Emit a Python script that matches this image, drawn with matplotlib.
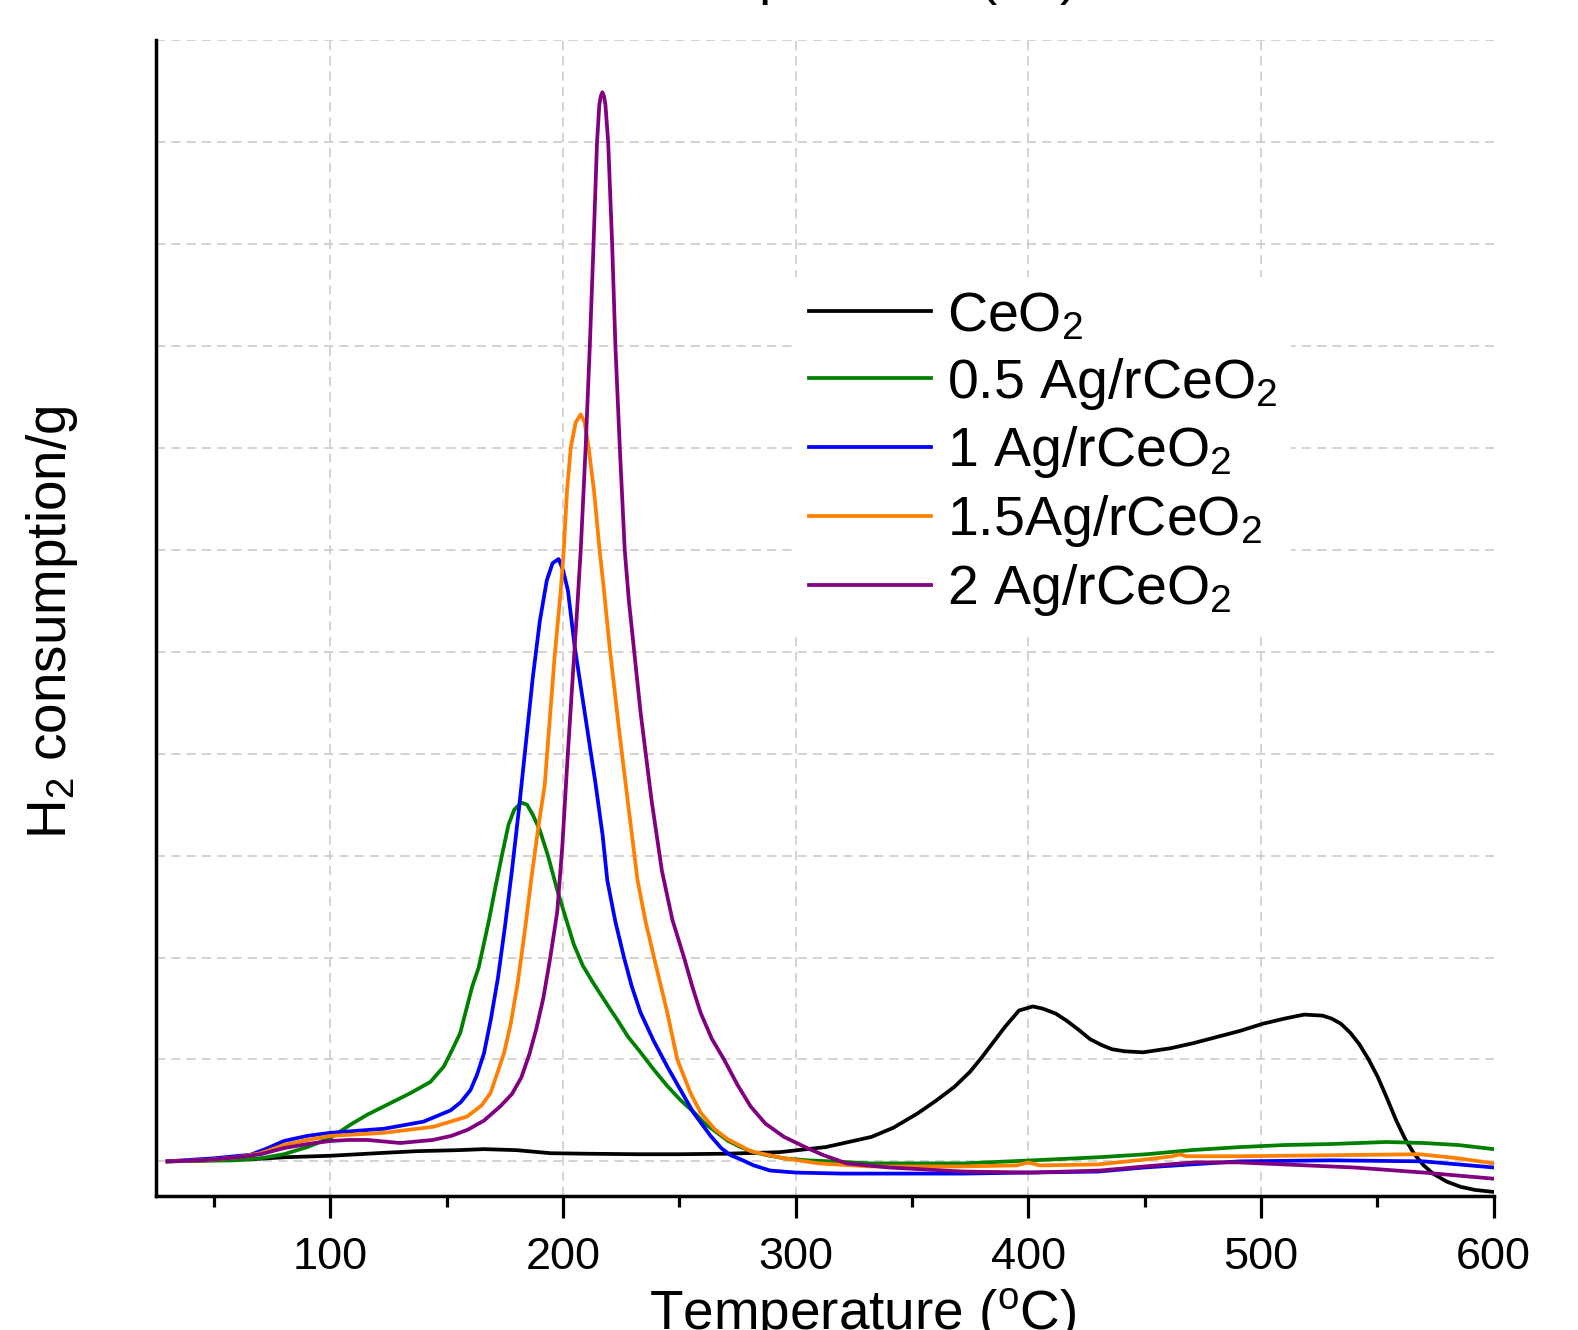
import matplotlib
matplotlib.use("Agg")
import matplotlib.pyplot as plt

plt.rcParams['font.family'] = ['Liberation Sans', 'DejaVu Sans']
plt.rcParams['mathtext.fontset'] = 'custom'
plt.rcParams['mathtext.rm'] = 'Liberation Sans'
plt.rcParams['mathtext.it'] = 'Liberation Sans:italic'

# ---------------- data ----------------
labels = ['CeO$_\\mathregular{2}$', '0.5 Ag/rCeO$_\\mathregular{2}$', '1 Ag/rCeO$_\\mathregular{2}$',
          '1.5Ag/rCeO$_\\mathregular{2}$', '2 Ag/rCeO$_\\mathregular{2}$']
colors = ['#000000', '#008000', '#0000ff', '#ff8000', '#800080']

t_ceo2 = [30, 45, 65.6, 80, 100, 120, 137, 155, 166, 180, 194.6, 210, 231.7, 250, 270, 293, 312.9,
          332.6, 342, 352.4, 360, 368.2, 375, 380, 385, 390, 396, 401.9, 406, 411.8, 416.5, 421.7,
          426.5, 431.6, 436, 441.4, 449.4, 461.2, 471, 481, 491, 500.8, 510, 518.6, 526.5, 530.5,
          534.4, 538.5, 542.3, 546.3, 550.2, 554.2, 558.2, 562, 566, 570, 574, 580, 585.9, 592, 600]
h_ceo2 = [0, 0.01, 0.02, 0.04, 0.055, 0.08, 0.10, 0.11, 0.12, 0.11, 0.08, 0.075, 0.07, 0.07, 0.075,
          0.09, 0.14, 0.24, 0.33, 0.47, 0.59, 0.73, 0.88, 1.02, 1.17, 1.32, 1.48, 1.52, 1.50, 1.45,
          1.38, 1.29, 1.20, 1.14, 1.10, 1.08, 1.07, 1.11, 1.16, 1.22, 1.28, 1.35, 1.40, 1.44, 1.43,
          1.40, 1.35, 1.26, 1.15, 1.00, 0.83, 0.62, 0.40, 0.22, 0.07, -0.04, -0.12, -0.20, -0.25,
          -0.28, -0.30]

t_ag05 = [30, 45, 58.7, 70, 80, 90, 100, 108.6, 116, 123, 134.4, 143, 148.7, 151.6, 155.8, 158.5,
          161, 163.7, 168, 171, 173.7, 176.5, 179, 182, 184.5, 187, 190, 193.5, 197.4, 201, 204.6,
          208.5, 213, 216.1, 219.5, 223.3, 228, 233.3, 239, 244.8, 250.5, 256.3, 261, 266.3, 271,
          276.3, 282, 287.8, 295, 305, 315, 332.6, 372, 402, 430, 451, 470, 491, 510, 530, 554,
          570, 585, 600]
h_ag05 = [0, 0.005, 0.01, 0.03, 0.07, 0.14, 0.23, 0.36, 0.46, 0.54, 0.67, 0.78, 0.93, 1.06, 1.26,
          1.50, 1.72, 1.90, 2.35, 2.70, 3.00, 3.30, 3.45, 3.52, 3.50, 3.40, 3.25, 3.00, 2.67, 2.40,
          2.13, 1.92, 1.75, 1.64, 1.52, 1.39, 1.22, 1.07, 0.90, 0.74, 0.60, 0.48, 0.37, 0.28, 0.20,
          0.14, 0.09, 0.06, 0.03, 0.01, 0.0, -0.02, -0.02, 0.01, 0.04, 0.07, 0.11, 0.14, 0.16, 0.17,
          0.19, 0.18, 0.16, 0.12]

t_ag1 = [30, 50, 65.6, 72, 80, 90, 100, 123, 140, 151.6, 156, 160.2, 163, 166, 169, 172, 175, 178,
         181, 184, 187, 190, 193, 195.5, 198.1, 200, 202.1, 205, 208, 211, 214, 217, 219, 222.5,
         226.2, 229.5, 233.3, 239, 244.8, 250.5, 256, 263.4, 268, 272, 276.3, 282, 289, 300, 320,
         372, 400, 430, 450, 470, 491, 530, 570, 600]
h_ag1 = [0, 0.03, 0.065, 0.12, 0.20, 0.25, 0.28, 0.32, 0.39, 0.50, 0.58, 0.70, 0.85, 1.06, 1.40,
         1.80, 2.30, 2.85, 3.45, 4.10, 4.75, 5.30, 5.70, 5.87, 5.91, 5.80, 5.60, 5.05, 4.60, 4.15,
         3.70, 3.20, 2.76, 2.35, 2.00, 1.72, 1.46, 1.18, 0.93, 0.70, 0.48, 0.25, 0.13, 0.06, 0.02,
         -0.04, -0.09, -0.11, -0.12, -0.12, -0.11, -0.10, -0.06, -0.03, 0.0, 0.01, 0.0, -0.06]

t_ag15 = [30, 45, 60, 70, 80, 90, 100, 123, 144.4, 158.8, 165, 168.8, 171.5, 174.6, 177.5, 180.5,
          183.5, 186.5, 189.5, 192.1, 196.4, 199, 200.3, 201.7, 203.3, 205.4, 207.6, 209.3, 211,
          213.3, 215.7, 217.6, 220, 224, 228, 232, 235.5, 239.1, 244.8, 249.1, 254.8, 259.1, 265,
          270.6, 280.6, 295, 310, 332, 370, 395, 400, 405, 430, 451, 462, 465, 468, 490, 530, 568,
          585, 600]
h_ag15 = [0, 0.01, 0.04, 0.08, 0.16, 0.21, 0.25, 0.28, 0.34, 0.44, 0.55, 0.67, 0.85, 1.06, 1.35,
          1.75, 2.25, 2.80, 3.30, 3.69, 4.96, 5.60, 6.00, 6.58, 7.00, 7.25, 7.33, 7.25, 7.00, 6.58,
          6.00, 5.60, 5.05, 4.25, 3.50, 2.76, 2.35, 2.00, 1.46, 1.00, 0.67, 0.48, 0.32, 0.22, 0.10,
          0.03, -0.02, -0.05, -0.05, -0.04, -0.01, -0.04, -0.03, 0.02, 0.05, 0.07, 0.05, 0.05, 0.06,
          0.07, 0.03, -0.02]

t_ag2 = [30, 45, 60, 70, 80, 90, 100, 108, 116, 130, 144, 152, 159, 166, 173, 178, 182, 185.5,
         188.5, 191.5, 194.5, 197.5, 199.7, 201.7, 204, 206, 207.6, 209.7, 211.5, 213.1, 214.6,
         215.6, 216.2, 216.9, 217.6, 218.2, 219.4, 221.1, 222.5, 224.4, 226.5, 228.3, 233.3, 238,
         242.5, 247, 252, 255.5, 259.1, 264, 269.2, 275, 280.6, 287, 295, 305, 312, 322, 340, 372,
         402, 431, 450, 471, 490, 510, 540, 570, 600]
h_ag2 = [0, 0.01, 0.04, 0.07, 0.13, 0.17, 0.20, 0.21, 0.21, 0.18, 0.21, 0.25, 0.31, 0.40, 0.54,
         0.66, 0.82, 1.05, 1.30, 1.60, 2.00, 2.45, 3.10, 3.87, 4.70, 5.40, 6.00, 7.00, 8.00, 9.00,
         10.00, 10.37, 10.45, 10.49, 10.45, 10.37, 10.00, 9.00, 8.00, 7.00, 6.00, 5.50, 4.41, 3.55,
         2.85, 2.37, 2.00, 1.72, 1.46, 1.20, 1.00, 0.75, 0.54, 0.37, 0.24, 0.13, 0.06, -0.02, -0.06,
         -0.10, -0.11, -0.09, -0.05, -0.01, -0.01, -0.03, -0.06, -0.11, -0.17]

xticks_major = [100, 200, 300, 400, 500, 600]
xticks_minor = [50, 150, 250, 350, 450, 550]
xlabel = 'Temperature ($^\\mathregular{o}$C)'
ylabel = 'H$_\\mathregular{2}$ consumption/g'

# ---------------- figure ----------------
W, H = 1578, 1330
fig = plt.figure(figsize=(W / 100, H / 100), dpi=100)
ax = fig.add_axes([156 / W, 1 - 1195.6 / H, (1493.5 - 156) / W, (1195.6 - 40.3) / H])

series = [(t_ceo2, h_ceo2), (t_ag05, h_ag05), (t_ag1, h_ag1), (t_ag15, h_ag15), (t_ag2, h_ag2)]
for (t, h), lab, col in zip(series, labels, colors):
    ax.plot(t, h, color=col, lw=2.7, label=lab, solid_joinstyle='round', zorder=3)

ax.set_xlim(25, 600)
ax.set_ylim(-0.336, 11)
ax.set_xticks(xticks_major)
ax.set_xticks(xticks_minor, minor=True)
ax.set_yticks(range(0, 12))
ax.set_yticklabels([])
ax.tick_params(axis='y', length=0)
ax.tick_params(axis='x', which='major', direction='out', length=16, width=2.3,
               labelsize=32.5, pad=14)
ax.tick_params(axis='x', which='minor', direction='out', length=8, width=2.3)

for s in ['top', 'right']:
    ax.spines[s].set_visible(False)
for s in ['left', 'bottom']:
    ax.spines[s].set_linewidth(2.5)

ax.grid(True, which='major', color='#c8c8c8', lw=1.1, linestyle=(0, (6, 4)), zorder=0)
ax.set_axisbelow(True)
ax.get_xgridlines()[-1].set_visible(False)

leg = ax.legend(loc='upper left', bbox_to_anchor=(795 / W, 1 - 277 / H),
                bbox_transform=fig.transFigure, fontsize=40, frameon=True,
                facecolor='white', edgecolor='none', framealpha=1, fancybox=False,
                handlelength=2.2, handletextpad=0.28, labelspacing=0.23,
                borderpad=0.25, borderaxespad=0)
for line in leg.get_lines():
    line.set_linewidth(2.7)

# axis titles
fig.text(863 / W, 0.0, xlabel, ha='center', va='baseline', fontsize=39.5)
fig.text(863 / W, 1 + 6 / H, xlabel, ha='center', va='baseline', fontsize=39.5)
fig.text(52 / W, 1 - 622 / H, ylabel, ha='center', va='center', rotation=90, fontsize=39.5)

fig.savefig('out.png', dpi=100)
